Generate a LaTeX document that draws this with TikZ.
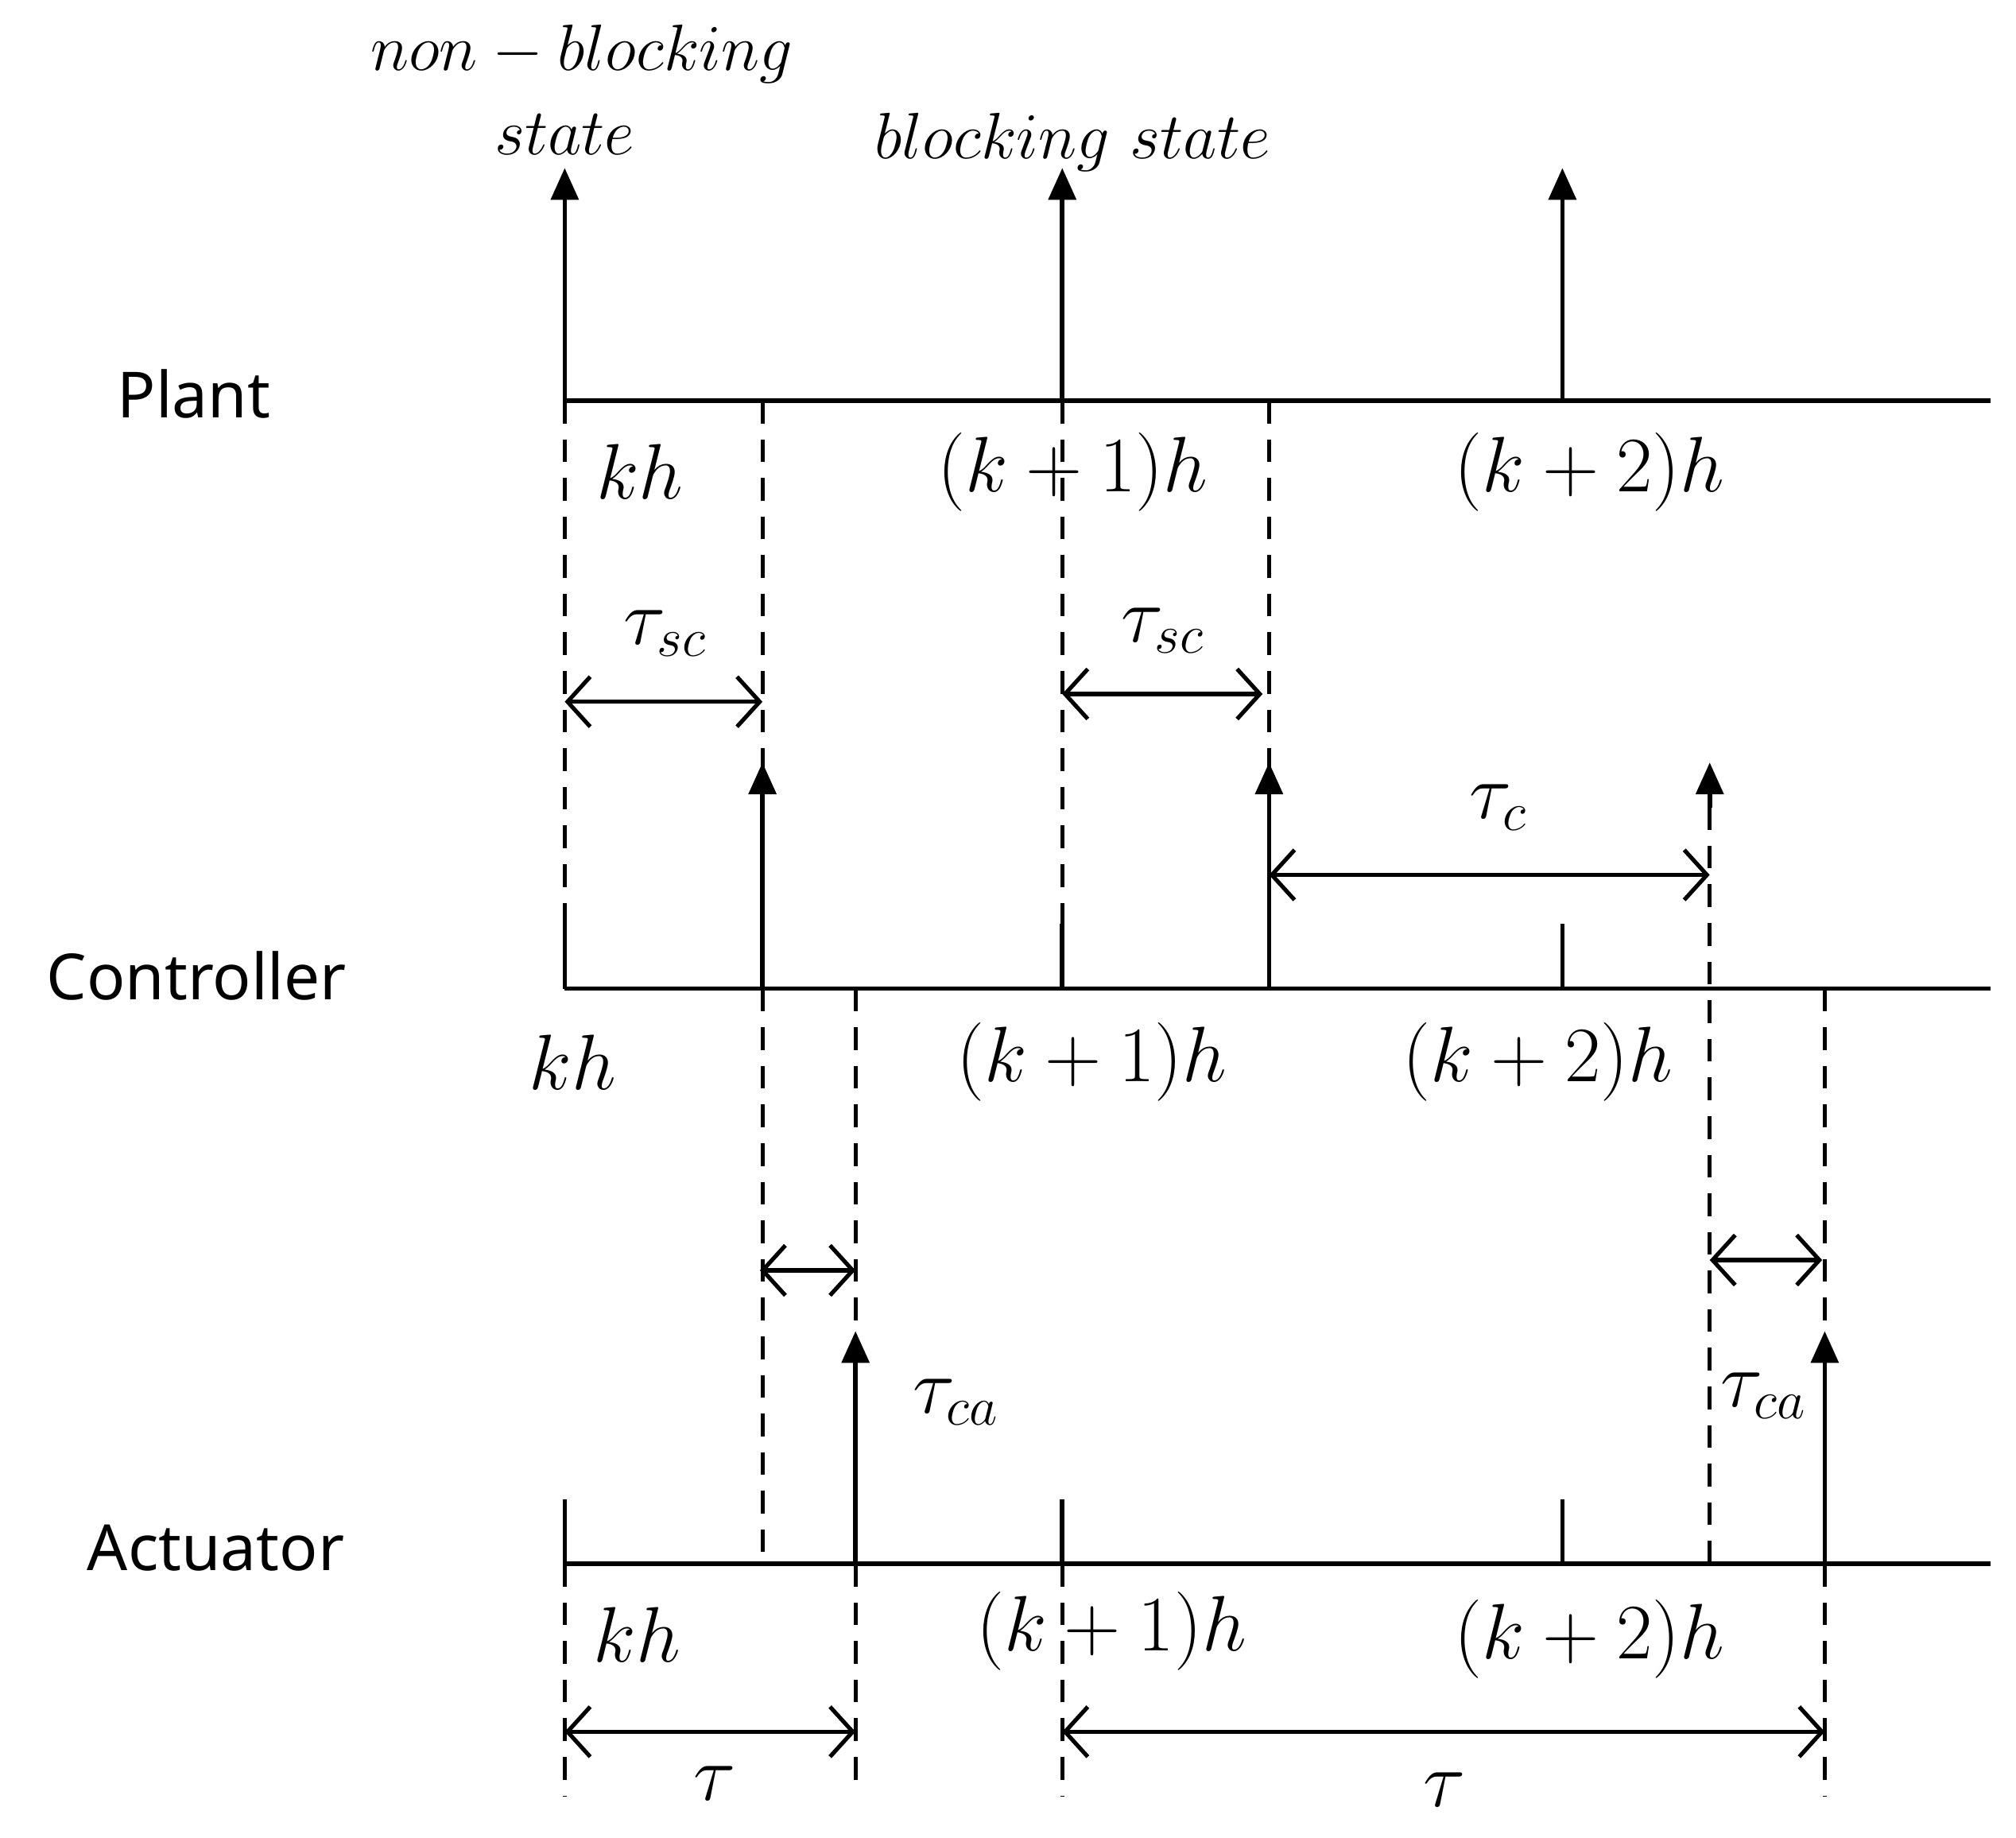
\documentclass[tikz,border=0pt]{standalone}
\usepackage{fontspec}
\setsansfont{Noto Sans}
\usetikzlibrary{arrows.meta}
\begin{document}
\begin{tikzpicture}[x=0.01cm,y=-0.01cm,
  ax/.style={line width=1.0pt},
  imp/.style={line width=1.0pt,-{Triangle[length=7pt,width=6pt]}},
  dsh/.style={line width=0.9pt,dash pattern=on 5pt off 3.5pt},
  dim/.style={line width=0.9pt,{Straight Barb[length=5pt,width=11pt]}-{Straight Barb[length=5pt,width=11pt]}},
  ml/.style={font=\fontsize{17}{20}\selectfont},
  tl/.style={font=\fontsize{15}{18}\selectfont},
  sl/.style={font=\sffamily\fontsize{14}{17}\selectfont}]
\useasboundingbox (0,0) rectangle (1560,1422);
\foreach \n/\y in {P/310,C/765,A/1210}{
  \coordinate (\n0) at (437,\y); \coordinate (\n1) at (822,\y);
  \coordinate (\n2) at (1209,\y); \coordinate (\n3) at (1540,\y);}
\draw[ax] (P0)--(P3); \draw[ax] (C0)--(C3); \draw[ax] (A0)--(A3);
\foreach \n/\h in {P/48,C/50,A/50}{\foreach \i in {0,1,2}{\draw[ax] (\n\i)--++(0,-\h);}}
\foreach \i in {0,1,2}{\draw[imp] (P\i)--++(0,-180);}
\node[sl] (lp) at (150,305) {Plant};
\node[sl] (lc) at (152,755) {Controller};
\node[sl] (la) at (167,1198) {Actuator};
\node[tl] (nb) at (450,42) {$non-blocking$};
\node[tl] (st) at (437,104) {$state$};
\node[tl] (bs) at (830,110) {$blocking\ state$};
\node[ml] at (495,365) {$kh$};
\node[ml] at (830,365) {$(k+1)h$};
\node[ml] at (1230,365) {$(k+2)h$};
\draw[imp] (590,765)--(590,590); \draw[imp] (982,765)--(982,590);
\draw[dsh] (437,310)--(437,715);
\draw[dsh] (590,310)--(590,620);
\draw[dsh] (822,310)--(822,715);
\draw[dsh] (982,310)--(982,620);
\draw[dim] (437,543)--(590,543); \node[ml] at (515,490) {$\tau_{sc}$};
\draw[dim] (822,537)--(977,537); \node[ml] at (900,488) {$\tau_{sc}$};
\draw[dsh] (1323,1210)--(1323,625);
\draw[imp] (1323,625)--(1323,590);
\draw[dim] (982,677)--(1323,677); \node[ml] at (1160,625) {$\tau_c$};
\node[ml] at (443,822) {$kh$};
\node[ml] at (845,822) {$(k+1)h$};
\node[ml] at (1190,822) {$(k+2)h$};
\draw[dsh] (590,765)--(590,1210);
\draw[dsh] (662,765)--(662,1060);
\draw[dsh] (1412,765)--(1412,1060);
\draw[imp] (662,1210)--(662,1030); \draw[imp] (1412,1210)--(1412,1030);
\draw[dim] (588,983)--(662,983);
\draw[dim] (1323,975)--(1410,975);
\node[ml] at (740,1085) {$\tau_{ca}$};
\node[ml] at (1365,1080) {$\tau_{ca}$};
\node[ml] at (493,1265) {$kh$};
\node[ml] at (860,1262) {$(k+1)h$};
\node[ml] at (1230,1268) {$(k+2)h$};
\draw[dsh] (437,1210)--(437,1390);
\draw[dsh] (662,1210)--(662,1385);
\draw[dsh] (822,1210)--(822,1390);
\draw[dsh] (1412,1210)--(1412,1390);
\draw[dim] (437,1340)--(662,1340); \node[ml] at (553,1380) {$\tau$};
\draw[dim] (822,1340)--(1412,1340); \node[ml] at (1118,1385) {$\tau$};
\end{tikzpicture}
\end{document}
